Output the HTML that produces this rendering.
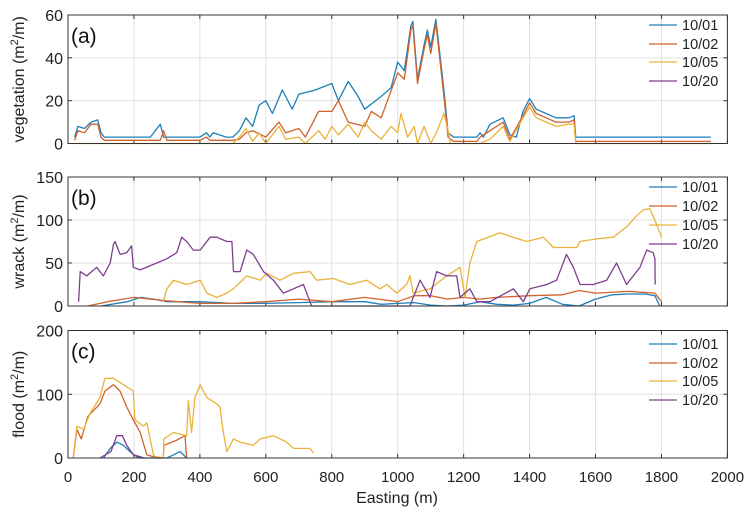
<!DOCTYPE html>
<html><head><meta charset="utf-8">
<style>
body{margin:0;background:#fff;}
svg{display:block;font-family:"Liberation Sans",sans-serif;}
</style></head>
<body>
<svg id="chart" width="754" height="520" viewBox="0 0 754 520" xmlns="http://www.w3.org/2000/svg"></svg>
<script>
// ---- data ----
const xTicks = [0,200,400,600,800,1000,1200,1400,1600,1800,2000];
const legendLabels = ["10/01","10/02","10/05","10/20"];
const seriesColors = ["#1f7fb8","#d0622d","#eab23a","#7e3f8e"];

// panel a: vegetation
const vegTicks = [0,20,40,60];
const vegBlueX = [20,30,50,70,90,100,110,130,200,250,280,290,300,400,420,430,440,480,500,520,540,560,580,600,620,650,680,700,750,800,820,850,880,900,950,980,1000,1020,1040,1046,1060,1080,1090,1100,1116,1140,1153,1170,1200,1240,1250,1260,1280,1320,1340,1360,1380,1400,1420,1450,1480,1520,1535,1540,1950];
const vegBlueY = [3,8,7,10,11,5,3,3,3,3,9,3,3,3,5,3,5,3,3,6,12,8,18,20,14,25,16,23,25,28,20,29,22,16,22,26,38,34,55,57,30,46,53,45,58,25,5,3,3,3,5,3,9,12,4,3,15,21,16,14,12,12,13,3,3];
const vegOrangeX = [20,30,50,70,90,100,110,200,280,290,300,400,420,430,500,520,540,560,600,640,660,700,720,760,800,820,850,900,920,950,1000,1020,1040,1046,1060,1080,1090,1100,1116,1140,1153,1170,1240,1250,1280,1320,1340,1380,1400,1420,1450,1480,1520,1535,1540,1950];
const vegOrangeY = [1.5,6,5,9,9,3,1.5,1.5,1.5,6,1.5,1.5,3,1.5,1.5,2,5,6,3,10,5,7,3,15,15,20,10,8,15,12,33,30,53,55,28,44,51,42,56,22,3,1,1,3,6,10,2,13,19,14,12,10,10,11,1,1];
const vegYellowX = [20,500,520,540,560,580,600,620,640,660,700,720,760,780,800,820,850,880,900,920,950,980,1000,1010,1030,1050,1060,1080,1100,1120,1140,1150,1160,1170,1250,1280,1320,1340,1380,1400,1420,1450,1480,1520,1535,1540,1950];
const vegYellowY = [0,0,3,7,1,5,0,4,8,2,3,0,6,2,8,4,9,3,10,6,2,8,5,14,3,8,0,8,0,6,14,8,0,0,0,2,8,1,12,17,12,10,8,9,9,0,0];
const vegPurpleX = [];
const vegPurpleY = [];

// panel b: wrack
const wrackTicks = [0,50,100,150];
const wrackBlueX = [100,180,220,260,300,400,500,600,700,800,900,950,1000,1050,1100,1150,1200,1250,1300,1350,1400,1450,1500,1550,1600,1650,1700,1750,1780,1795];
const wrackBlueY = [0,5,10,8,5,5,3,3,4,5,5,2,3,4,1,0,1,5,2,1,3,10,2,0,8,13,14,14,12,0];
const wrackOrangeX = [60,120,200,250,300,400,500,600,700,800,900,1000,1050,1100,1150,1200,1250,1300,1400,1500,1550,1600,1700,1780,1800];
const wrackOrangeY = [0,5,10,8,6,3,3,5,8,5,10,5,12,12,8,10,8,10,12,13,18,15,17,15,5];
const wrackYellowX = [289,300,320,360,401,421,451,482,502,542,583,603,643,684,734,754,805,855,906,946,967,997,1027,1037,1047,1098,1149,1189,1204,1219,1240,1310,1391,1442,1472,1543,1553,1603,1654,1694,1725,1745,1765,1785,1800];
const wrackYellowY = [5,20,30,25,30,15,10,15,20,35,30,38,30,38,40,30,32,25,30,20,25,15,25,35,15,20,35,45,10,50,75,85,75,80,68,68,75,78,80,92,105,112,113,95,80];
const wrackPurpleX = [32,37,57,87,107,128,138,143,158,178,193,198,219,269,300,330,345,360,380,401,431,451,482,497,502,522,542,562,593,623,653,684,714,734,739,1037,1068,1098,1118,1149,1179,1189,1219,1240,1280,1351,1381,1401,1452,1482,1512,1533,1553,1593,1634,1664,1694,1735,1755,1775,1780,1781];
const wrackPurpleY = [5,40,35,45,35,50,72,75,60,62,70,45,42,50,55,62,80,75,65,65,80,80,75,75,40,40,65,60,40,30,15,20,25,5,0,0,30,10,40,35,35,10,20,5,5,20,5,20,25,30,60,45,25,25,30,50,25,45,65,62,55,25];

// panel c: flood
const floodTicks = [0,100,200];
const floodBlueX = [108,128,148,168,188,208,220,300,320,340,360];
const floodBlueY = [0,15,25,20,10,2,0,0,5,10,0];
const floodOrangeX = [16,27,40,60,97,112,138,158,178,198,219,239,259,289,291,330,355,360];
const floodOrangeY = [0,45,30,65,85,105,115,105,80,60,40,5,2,0,20,28,35,0];
const floodYellowX = [16,27,47,67,97,112,138,168,198,203,229,239,259,269,289,291,320,360,365,375,385,401,421,451,461,471,482,502,522,562,583,623,663,684,734,744];
const floodYellowY = [0,50,45,70,95,125,125,115,105,60,50,55,5,0,0,30,40,35,90,40,95,115,95,85,80,40,10,30,25,20,30,35,25,15,15,8];
const floodPurpleX = [97,130,148,165,178,198,219,230];
const floodPurpleY = [0,10,35,35,20,5,2,0];

// ---- drawing ----
const svg = document.getElementById('chart');
const NS = 'http://www.w3.org/2000/svg';
const X0 = 68, X1 = 727.4;
function xs(m){ return X0 + (m/2000)*(X1-X0); }
function mk(tag, attrs){ const e=document.createElementNS(NS,tag); for(const k in attrs) e.setAttribute(k,attrs[k]); svg.appendChild(e); return e; }

function panel(cfg){
  const {top,bottom,ymax,ticks,label,ylabel,series,name,legendY,showXLabels} = cfg;
  const ys = v => bottom - (v/ymax)*(bottom-top);
  const g = mk('rect',{x:X0,y:top,width:X1-X0,height:bottom-top,fill:'#fff'});
  
  
  xTicks.forEach(t=>{
    const l = mk('line',{x1:xs(t),x2:xs(t),y1:top,y2:bottom,stroke:'#e0e0e0','stroke-width':1});
    
    
    const tk = mk('line',{x1:xs(t),x2:xs(t),y1:bottom,y2:bottom-4,stroke:'#333','stroke-width':1});
    
    
    const tk2 = mk('line',{x1:xs(t),x2:xs(t),y1:top,y2:top+4,stroke:'#333','stroke-width':1});
    
    
    if(showXLabels){
      const tx = mk('text',{x:xs(t),y:bottom+24,'text-anchor':'middle','font-size':15,fill:'#222'});
      tx.textContent = t;
      
      
    }
  });
  ticks.forEach(t=>{
    const l = mk('line',{x1:X0,x2:X1,y1:ys(t),y2:ys(t),stroke:'#e0e0e0','stroke-width':1});
    
    
    const tk = mk('line',{x1:X0,x2:X0+4,y1:ys(t),y2:ys(t),stroke:'#333','stroke-width':1});
    
    
    const tk2 = mk('line',{x1:X1,x2:X1-4,y1:ys(t),y2:ys(t),stroke:'#333','stroke-width':1});
    
    
    const tx = mk('text',{x:X0-5,y:ys(t)+6,'text-anchor':'end','font-size':16,fill:'#222'});
    tx.textContent = t;
    
    
  });
  series.forEach((s,i)=>{
    if(!s.x.length) return;
    const d = s.x.map((m,j)=>(j?'L':'M')+xs(m).toFixed(1)+' '+ys(s.y[j]).toFixed(1)).join(' ');
    const p = mk('path',{d:d,fill:'none',stroke:seriesColors[i],'stroke-width':1.3,'stroke-linejoin':'round'});
    
    
  });
  const box = mk('rect',{x:X0,y:top,width:X1-X0,height:bottom-top,fill:'none',stroke:'#333','stroke-width':1});
  
  
  const pl = mk('text',{x:X0+3,y:top+28,'font-size':21,fill:'#111'});
  pl.textContent = label;
  
  
  const cy = (top+bottom)/2;
  const yl = mk('text',{x:0,y:0,'text-anchor':'middle','font-size':16,fill:'#222',transform:'translate(24,'+cy+') rotate(-90)'});
  yl.innerHTML = ylabel+' (m<tspan dy="-6" font-size="11">2</tspan><tspan dy="6">/m)</tspan>';
  
  
  legendLabels.forEach((lab,i)=>{
    const y = legendY[i];
    const ln = mk('line',{x1:649,x2:677,y1:y,y2:y,stroke:seriesColors[i],'stroke-width':1.3});
    
    
    const t = mk('text',{x:682,y:y+5,'font-size':14.5,fill:'#222'});
    t.textContent = lab;
    
    
  });
}

panel({top:15,bottom:143.5,ymax:60,ticks:vegTicks,label:'(a)',ylabel:'vegetation',name:'vegetation',
  legendY:[25,44,62,81],showXLabels:false,
  series:[{x:vegBlueX,y:vegBlueY},{x:vegOrangeX,y:vegOrangeY},{x:vegYellowX,y:vegYellowY},{x:vegPurpleX,y:vegPurpleY}]});
panel({top:177,bottom:306,ymax:150,ticks:wrackTicks,label:'(b)',ylabel:'wrack',name:'wrack',
  legendY:[187,206,225,244],showXLabels:false,
  series:[{x:wrackBlueX,y:wrackBlueY},{x:wrackOrangeX,y:wrackOrangeY},{x:wrackYellowX,y:wrackYellowY},{x:wrackPurpleX,y:wrackPurpleY}]});
panel({top:330.5,bottom:458,ymax:200,ticks:floodTicks,label:'(c)',ylabel:'flood',name:'flood',
  legendY:[344,363,381,400],showXLabels:true,
  series:[{x:floodBlueX,y:floodBlueY},{x:floodOrangeX,y:floodOrangeY},{x:floodYellowX,y:floodYellowY},{x:floodPurpleX,y:floodPurpleY}]});

const xt = mk('text',{x:397,y:503,'text-anchor':'middle','font-size':16,fill:'#222'});
xt.textContent = 'Easting (m)';


</script>
</body></html>
